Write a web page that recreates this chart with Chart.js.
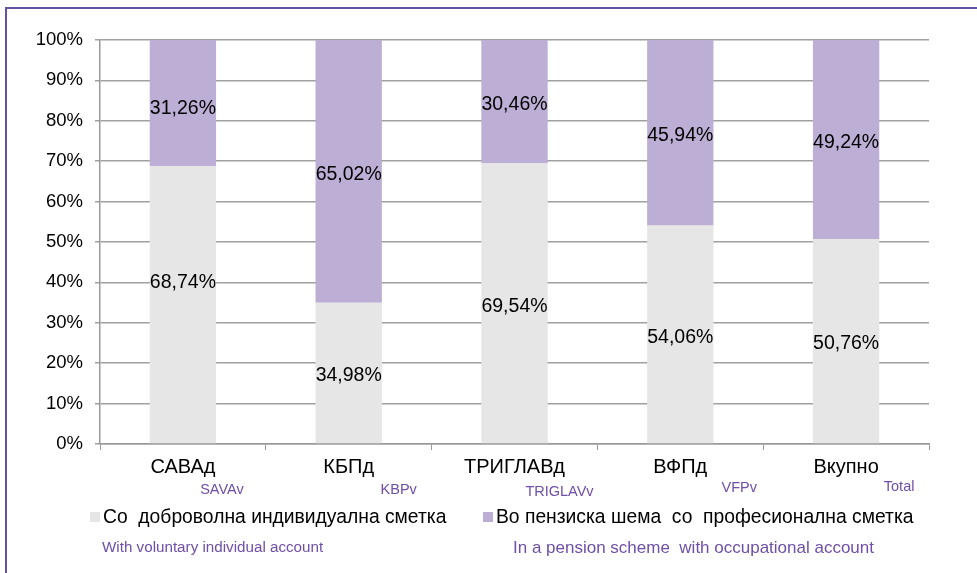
<!DOCTYPE html>
<html>
<head>
<meta charset="utf-8">
<script src="https://cdn.jsdelivr.net/npm/chart.js@4.4.1/dist/chart.umd.min.js"></script>
<style>
  html, body { margin: 0; padding: 0; background: #fff; }
  #wrap { position: relative; width: 977px; height: 573px; }
</style>
</head>
<body>
<div id="wrap"><canvas id="fundChart" width="977" height="573"></canvas></div>
<script>
  // categories (Macedonian) and their English captions
  var categories = ['САВАд', 'КБПд', 'ТРИГЛАВд', 'ВФПд', 'Вкупно'];
  var categoriesEn = ['SAVAv', 'KBPv', 'TRIGLAVv', 'VFPv', 'Total'];

  // series
  var voluntaryLabel = 'Со  доброволна индивидуална сметка';
  var voluntaryLabelEn = 'With voluntary individual account';
  var voluntary = [68.74, 34.98, 69.54, 54.06, 50.76];

  var occupationalLabel = 'Во пензиска шема  со  професионална сметка';
  var occupationalLabelEn = 'In a pension scheme  with occupational account';
  var occupational = [31.26, 65.02, 30.46, 45.94, 49.24];

  var yTicks = [0, 10, 20, 30, 40, 50, 60, 70, 80, 90, 100];

  var purpleText = '#6f4fa8';
  var font = '"Liberation Sans", Arial, sans-serif';

  // value labels inside the bar segments + english captions + legend + frame
  var extrasPlugin = {
    id: 'extras',
    afterDatasetsDraw: function(chart) {
      var ctx = chart.ctx;
      ctx.save();
      ctx.fillStyle = '#000';
      ctx.font = '19.5px ' + font;
      ctx.textAlign = 'center';
      ctx.textBaseline = 'middle';
      chart.data.datasets.forEach(function(ds, di) {
        var meta = chart.getDatasetMeta(di);
        meta.data.forEach(function(bar, i) {
          var y = (bar.y + bar.base) / 2 + 3;
          if (di === 0 && i === 0) y -= 25; // label moved up in the original
          if (di === 1 && i === 0) y += 2;
          ctx.fillText(ds.data[i].toFixed(2).replace('.', ',') + '%', bar.x, y);
        });
      });
      ctx.restore();
    },
    afterDraw: function(chart) {
      var ctx = chart.ctx;
      var xScale = chart.scales.x;
      ctx.save();

      // frame
      ctx.strokeStyle = '#6650a0';
      ctx.lineWidth = 2;
      ctx.beginPath();
      ctx.moveTo(6, 573);
      ctx.lineTo(6, 8);
      ctx.lineTo(977, 8);
      ctx.stroke();

      // english category captions
      var capDx = [39, 50, 45, 59, 53];
      var capY = [490, 490, 492, 488, 487];
      ctx.fillStyle = purpleText;
      ctx.font = '14.5px ' + font;
      ctx.textAlign = 'center';
      ctx.textBaseline = 'middle';
      categoriesEn.forEach(function(t, i) {
        ctx.fillText(t, xScale.getPixelForValue(i) + capDx[i], capY[i]);
      });

      // legend
      var items = [
        { x: 90, text: voluntaryLabel, en: voluntaryLabelEn, enX: 102, enSize: 15.2, color: chart.data.datasets[0].backgroundColor },
        { x: 483, text: occupationalLabel, en: occupationalLabelEn, enX: 513, enSize: 17, color: chart.data.datasets[1].backgroundColor }
      ];
      items.forEach(function(it) {
        ctx.fillStyle = it.color;
        ctx.fillRect(it.x, 512, 10, 10);
        ctx.fillStyle = '#000';
        ctx.font = '19.3px ' + font;
        ctx.textAlign = 'left';
        ctx.fillText(it.text, it.x + 13, 518);
        ctx.fillStyle = purpleText;
        ctx.font = it.enSize + 'px ' + font;
        ctx.fillText(it.en, it.enX, 548);
      });
      ctx.restore();
    }
  };

  var ctx = document.getElementById('fundChart').getContext('2d');
  var fundChart = new Chart(ctx, {
    type: 'bar',
    data: {
      labels: categories,
      datasets: [
        {
          label: voluntaryLabel,
          backgroundColor: '#e6e6e6',
          data: voluntary,
          categoryPercentage: 1,
          barPercentage: 0.4
        },
        {
          label: occupationalLabel,
          backgroundColor: '#bcaed4',
          data: occupational,
          categoryPercentage: 1,
          barPercentage: 0.4
        }
      ]
    },
    options: {
      responsive: false,
      animation: false,
      layout: { padding: { top: 40, right: 48, left: 0, bottom: 0 } },
      plugins: {
        legend: { display: false },
        tooltip: { enabled: false }
      },
      scales: {
        x: {
          stacked: true,
          grid: { offset: true, drawOnChartArea: false, color: '#999', tickLength: 6 },
          border: { color: '#999', width: 1.5 },
          ticks: { color: '#000', font: { size: 20, family: font }, padding: 5 },
          afterFit: function(scale) { scale.height = 129; }
        },
        y: {
          stacked: true,
          min: 0,
          max: 100,
          afterBuildTicks: function(scale) {
            scale.ticks = yTicks.map(function(v) { return { value: v }; });
          },
          grid: { color: '#a0a0a0', lineWidth: 1.5, tickLength: 5 },
          border: { color: '#999', width: 1.5 },
          ticks: {
            color: '#000',
            font: { size: 18.5, family: font },
            padding: 12,
            callback: function(v) { return v + '%'; }
          },
          afterFit: function(scale) { scale.width = 100; }
        }
      }
    },
    plugins: [extrasPlugin]
  });
</script>
</body>
</html>
